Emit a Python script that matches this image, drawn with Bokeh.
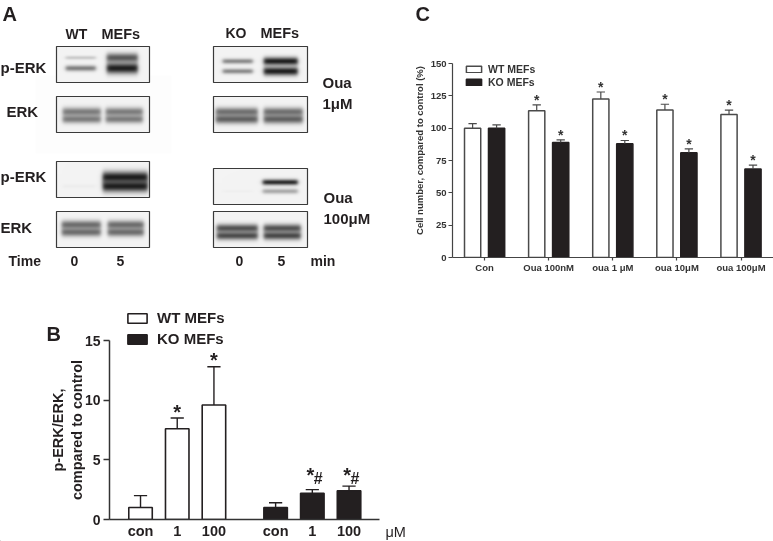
from bokeh.plotting import figure
from bokeh.models import (Range1d, FixedTicker, Legend, LegendItem)
from bokeh.core.properties import value
from bokeh.embed import file_html
from bokeh.resources import INLINE
import numpy as np

FONT = "Liberation Sans"
INK = "#231f20"

# ---- Panel B data
b_labels = ["con", "1", "100", "con", "1", "100"]
b_wt = [1.0, 7.6, 9.6]
b_wt_top = [2.0, 8.5, 12.8]
b_ko = [1.0, 2.2, 2.4]
b_ko_top = [1.4, 2.5, 2.8]

# ---- Panel C data
c_labels = ["Con", "Oua 100nM", "oua 1 \u03bcM", "oua 10\u03bcM", "oua 100\u03bcM"]
c_wt = [100, 113.5, 122.5, 114, 110.5]
c_wt_top = [103.5, 118, 128, 118.5, 114]
c_ko = [100, 89, 88, 81, 68.5]
c_ko_top = [102.5, 91, 90.5, 84, 71.5]

# ---- Panel A blot band strengths: (upper band, lower band) per lane
a_blots = {
    "wt1_perk": [(0.2, 0.55), (0.72, 1.0)],
    "wt1_erk": [(0.55, 0.55), (0.55, 0.55)],
    "ko1_perk": [(0.5, 0.5), (1.0, 1.0)],
    "ko1_erk": [(0.6, 0.68), (0.6, 0.68)],
    "wt2_perk": [(0.0, 0.03), (1.0, 1.0)],
    "wt2_erk": [(0.62, 0.62), (0.62, 0.62)],
    "ko2_perk": [(0.0, 0.02), (0.95, 0.35)],
    "ko2_erk": [(0.75, 0.78), (0.75, 0.8)],
}

# ---- Panel A geometry of the blots: frame, lane extents, band rows, band half thickness per lane
a_geom = {
    "wt1_perk": ((56, 149, 46, 82), [(65, 95), (106, 137)], (57.5, 68), [(1.3, 2.0), (3.2, 3.8)]),
    "wt1_erk": ((56, 149, 96, 132), [(62, 100), (105, 142)], (111.5, 119), [(3.0, 2.8), (3.0, 2.8)]),
    "ko1_perk": ((213, 307, 46, 82), [(222, 252), (263, 297)], (61, 71), [(1.8, 1.8), (2.8, 3.0)]),
    "ko1_erk": ((213, 307, 96, 132), [(215, 257), (263, 302)], (111.5, 119), [(3.0, 3.1), (3.0, 3.1)]),
    "wt2_perk": ((56, 149, 161, 197), [(62, 95), (102, 147)], (177, 186), [(1, 1.5), (4.0, 4.0)]),
    "wt2_erk": ((56, 149, 211, 247), [(61, 100), (107, 143)], (224.5, 232), [(3.0, 3.0), (3.0, 3.0)]),
    "ko2_perk": ((213, 307, 168, 204), [(222, 252), (262, 297)], (182, 191), [(1, 1), (2.0, 1.8)]),
    "ko2_erk": ((213, 307, 211, 247), [(216, 257), (263, 300)], (228, 235.5), [(2.9, 2.9), (2.9, 2.9)]),
}

PAGE_W, PAGE_H = 773, 541


def blot_image(key):
    (x0, x1, y0, y1), lanes, rows, thick = a_geom[key]
    scale = 2
    w, h = (x1 - x0) * scale, (y1 - y0) * scale
    xs = x0 + (np.arange(w) + 0.5) / scale
    ys = y0 + (np.arange(h) + 0.5) / scale
    X, Y = np.meshgrid(xs, ys)
    dark = np.ones_like(X)
    for lane, strengths, t in zip(lanes, a_blots[key], thick):
        edge = 0.5 * (np.tanh((X - lane[0]) / 2.2) - np.tanh((X - lane[1]) / 2.2))
        for row, s, sig in zip(rows, strengths, t):
            dark = dark * (1 - s * edge * np.exp(-0.5 * ((Y - row) / sig) ** 2))
    grey = (30 + (244 - 30) * dark).astype(np.uint8)
    img = np.zeros((h, w), dtype=np.uint32)
    view = img.view(dtype=np.uint8).reshape((h, w, 4))
    view[..., 0] = view[..., 1] = view[..., 2] = grey
    view[..., 3] = 255
    return img[::-1]


# ================= Backdrop page figure: panel A, panel letters, legend of B
pa = figure(width=PAGE_W, height=PAGE_H, x_range=Range1d(0, PAGE_W), y_range=Range1d(0, PAGE_H),
            output_backend="svg", toolbar_location=None, min_border=0,
            styles={"position": "fixed", "left": "0px", "top": "0px"})
pa.axis.visible = False
pa.grid.visible = False
pa.outline_line_color = None

pa.quad(left=35, right=171, top=PAGE_H - 75, bottom=PAGE_H - 153, fill_color="#fdfdfd", line_color=None)
for key in a_blots:
    (x0, x1, y0, y1), *_ = a_geom[key]
    pa.image_rgba(image=[blot_image(key)], x=x0, y=PAGE_H - y1, dw=x1 - x0, dh=y1 - y0)
    pa.quad(left=x0, right=x1, top=PAGE_H - y0, bottom=PAGE_H - y1, fill_color=None,
            line_color="#3a3a3a", line_width=1.2)

a_texts = [
    ("A", 2, 13, 20, "bold"), ("WT", 65, 33, 14, "bold"), ("MEFs", 101, 33, 14.5, "bold"),
    ("KO", 225, 32, 14, "bold"), ("MEFs", 260, 32, 14.5, "bold"),
    ("p-ERK", 0, 67, 15, "bold"), ("ERK", 6, 111, 15, "bold"), ("p-ERK", 0, 176, 15, "bold"), ("ERK", 0, 227, 15, "bold"),
    ("Time", 8, 260, 14, "bold"), ("0", 70, 260, 14, "bold"), ("5", 116, 260, 14, "bold"),
    ("0", 235, 260, 14, "bold"), ("5", 277, 260, 14, "bold"),
    ("min", 310, 260, 14, "bold"), ("Oua", 322, 82, 15, "bold"), ("1\u03bcM", 322, 103, 15, "bold"),
    ("Oua", 323, 197, 15, "bold"), ("100\u03bcM", 323, 218, 15, "bold"),
    ("B", 46, 333, 20, "bold"), ("C", 415, 13, 20, "bold"), ("\u03bcM", 385, 531, 14.5, "normal"),
]
for t, x, y, size, style in a_texts:
    pa.text(x=[x], y=[PAGE_H - y], text=[t], text_font=value(FONT), text_font_style=style,
            text_font_size=f"{size}px", text_color=INK, text_align="left", text_baseline="middle")

# legend keys: one point below the visible range, so only the legend shows them
key_wt = pa.vbar(x=[-50], top=[-50], width=1, fill_color="white", line_color=INK, line_width=1.6)
key_ko = pa.vbar(x=[-50], top=[-50], width=1, fill_color=INK, line_color=INK, line_width=1.6)
leg_b = Legend(items=[LegendItem(label="WT MEFs", renderers=[key_wt]), LegendItem(label="KO MEFs", renderers=[key_ko])],
               location=(125, PAGE_H - 347), orientation="vertical", glyph_width=24, glyph_height=12, label_standoff=8,
               spacing=4, padding=0, margin=0, background_fill_alpha=0, border_line_color=None,
               label_text_font=FONT, label_text_font_style="bold", label_text_font_size="15px",
               label_text_color=INK, label_height=12)
pa.add_layout(leg_b)

# ================= Panel B
B_X = [1, 2, 3, 4.68, 5.68, 6.68]
pb = figure(width=410, height=256, x_range=Range1d(0.155, 7.51), y_range=Range1d(0, 15),
            output_backend="svg", toolbar_location=None,
            background_fill_color=None, border_fill_color=None,
            min_border_left=109, min_border_right=31, min_border_top=55, min_border_bottom=21,
            styles={"position": "fixed", "left": "0px", "top": "285px"})
pb.grid.visible = False
pb.outline_line_color = None
pb.vbar(x=B_X[:3], top=b_wt, width=0.64, fill_color="white", line_color=INK, line_width=1.6)
pb.vbar(x=B_X[3:], top=b_ko, width=0.64, fill_color=INK, line_color=INK, line_width=1.6)
pb.segment(x0=B_X, x1=B_X, y0=b_wt + b_ko, y1=b_wt_top + b_ko_top, line_color=INK, line_width=1.4)
pb.segment(x0=[x - 0.18 for x in B_X], x1=[x + 0.18 for x in B_X], y0=b_wt_top + b_ko_top,
           y1=b_wt_top + b_ko_top, line_color=INK, line_width=1.4)
pb.xaxis.ticker = FixedTicker(ticks=B_X)
pb.xaxis.major_label_overrides = {x: l for x, l in zip(B_X, b_labels)}
pb.xaxis.major_tick_line_color = None
pb.xaxis.minor_tick_line_color = None
pb.xaxis.major_tick_out = 0
pb.xaxis.major_tick_in = 0
pb.xaxis.major_label_standoff = 3
pb.yaxis.ticker = FixedTicker(ticks=[0, 5, 10, 15])
pb.yaxis.minor_tick_line_color = None
pb.yaxis.major_tick_out = 6
pb.yaxis.major_tick_in = 0
pb.yaxis.major_label_standoff = 3
pb.yaxis.axis_label = "p-ERK/ERK,\ncompared to control"
pb.yaxis.axis_label_standoff = -3
pb.yaxis.axis_label_text_font_style = "bold"
pb.yaxis.axis_label_text_font_size = "14.5px"
pb.yaxis.axis_label_text_font = FONT
pb.yaxis.axis_label_text_color = INK
for ax in pb.axis:
    ax.axis_line_color = "#333333"
    ax.axis_line_width = 1.5
    ax.major_tick_line_width = 1.5
    ax.major_label_text_font = FONT
    ax.major_label_text_font_style = "bold"
    ax.major_label_text_font_size = "14.5px"
    ax.major_label_text_color = INK
pb.yaxis.major_label_text_font_size = "14px"
pb.yaxis.major_tick_line_color = "#333333"

# stars of panel B, heights
b_star_x = [2, 3, 5.68, 6.68]
b_star_y = [9.2, 13.5, 3.9, 3.9]
pb.text(x=b_star_x, y=b_star_y, text=["*"] * 4, text_font=value(FONT), text_font_style="bold",
        text_font_size="20px", text_color=INK, text_align="center", text_baseline="middle", y_offset=2,
        x_offset=[0, 0, -2, -2])
pb.text(x=b_star_x[2:], y=[3.4, 3.4], text=["#"] * 2, text_font=value(FONT), text_font_style="bold",
        text_font_size="16px", text_color=INK, text_align="center", text_baseline="middle", x_offset=6)

# ================= Panel C
C_GROUP = [1, 2, 3, 4, 5]
BAR_OFF = 0.187
C_W = [g - BAR_OFF for g in C_GROUP]
C_K = [g + BAR_OFF for g in C_GROUP]
pc = figure(width=363, height=285, x_range=Range1d(1 - 32.2 / 64.3, 1 + 289.8 / 64.3), y_range=Range1d(0, 165.5),
            output_backend="svg", toolbar_location=None,
            background_fill_color=None, border_fill_color=None,
            min_border_left=41, min_border_right=0, min_border_top=43, min_border_bottom=28,
            styles={"position": "fixed", "left": "410px", "top": "0px"})
pc.grid.visible = False
pc.outline_line_color = None
C_LINE = "#4a4a4a"
r_cw = pc.vbar(x=C_W, top=c_wt, width=0.253, fill_color="white", line_color=C_LINE, line_width=1.5)
r_ck = pc.vbar(x=C_K, top=c_ko, width=0.253, fill_color=INK, line_color=INK, line_width=1.5)
pc.segment(x0=C_W + C_K, x1=C_W + C_K, y0=c_wt + c_ko, y1=c_wt_top + c_ko_top, line_color=C_LINE, line_width=1.2)
pc.segment(x0=[x - 0.065 for x in C_W + C_K], x1=[x + 0.065 for x in C_W + C_K], y0=c_wt_top + c_ko_top,
           y1=c_wt_top + c_ko_top, line_color=C_LINE, line_width=1.2)
pc.xaxis.ticker = FixedTicker(ticks=C_GROUP)
pc.xaxis.major_label_overrides = {g: l for g, l in zip(C_GROUP, c_labels)}
pc.xaxis.major_tick_out = 3
pc.xaxis.major_tick_in = 0
pc.xaxis.minor_tick_line_color = None
pc.xaxis.major_label_standoff = 1
pc.yaxis.ticker = FixedTicker(ticks=[0, 25, 50, 75, 100, 125, 150])
pc.yaxis.bounds = (0, 150)
pc.yaxis.minor_tick_line_color = None
pc.yaxis.major_tick_out = 4
pc.yaxis.major_tick_in = 0
pc.yaxis.major_label_standoff = 2
pc.yaxis.axis_label = "Cell number, compared to control (%)"
pc.yaxis.axis_label_standoff = 3
pc.yaxis.axis_label_text_font = FONT
pc.yaxis.axis_label_text_font_style = "bold"
pc.yaxis.axis_label_text_font_size = "9.5px"
pc.yaxis.axis_label_text_color = "#333333"
for ax in pc.axis:
    ax.axis_line_color = "#444444"
    ax.axis_line_width = 1.2
    ax.major_tick_line_color = "#444444"
    ax.major_tick_line_width = 1.2
    ax.major_label_text_font = FONT
    ax.major_label_text_font_style = "bold"
    ax.major_label_text_font_size = "9.5px"
    ax.major_label_text_color = "#333333"

c_star_x = C_W[1:] + C_K[1:]
c_star_y = c_wt_top[1:] + c_ko_top[1:]
pc.text(x=c_star_x, y=c_star_y, text=["*"] * 8, text_font=value(FONT), text_font_style="bold",
        text_font_size="14px", text_color="#333333", text_align="center", text_baseline="middle", y_offset=-5)

leg_c = Legend(items=[LegendItem(label="WT MEFs", renderers=[r_cw]), LegendItem(label="KO MEFs", renderers=[r_ck])],
               location=(12, 169), orientation="vertical", glyph_width=19, glyph_height=8, label_standoff=5,
               spacing=1, padding=0, margin=0, background_fill_alpha=0, border_line_color=None,
               label_text_font=FONT, label_text_font_style="bold", label_text_font_size="10.5px",
               label_text_color="#333333", label_height=8)
pc.add_layout(leg_c)

open("out.html", "w").write(file_html([pa, pb, pc], INLINE))
